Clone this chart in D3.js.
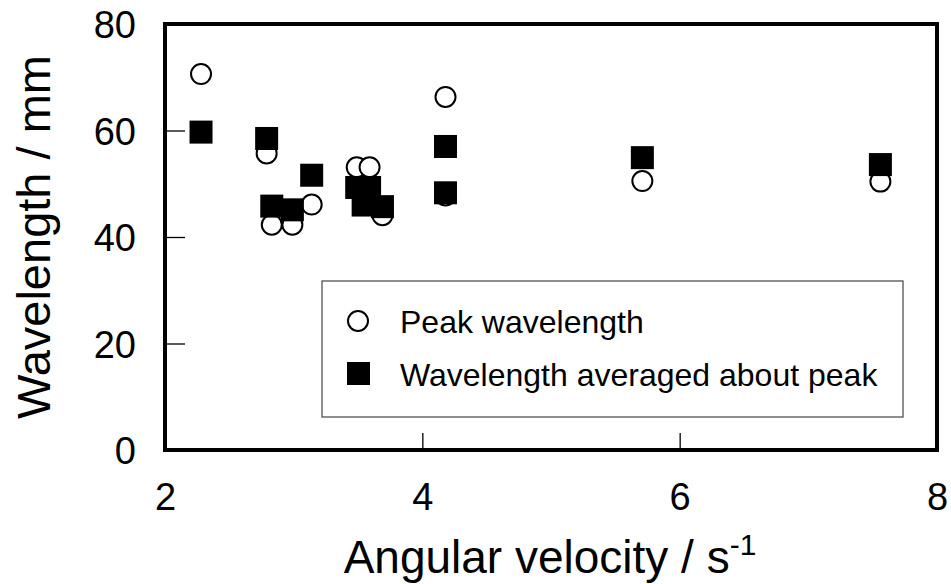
<!DOCTYPE html>
<html><head><meta charset="utf-8">
<script src="https://cdn.jsdelivr.net/npm/d3@7"></script>
<style>body{margin:0;background:#fff}svg{display:block}text{font-family:"Liberation Sans",Arial,sans-serif;fill:#000}</style>
</head><body><svg id="c" width="951" height="584"></svg>
<script>
const peakX = [2.28, 2.79, 2.83, 2.99, 3.14, 3.49, 3.59, 3.54, 3.69, 4.18, 4.18, 5.71, 7.56];
const peakY = [70.6, 55.7, 42.3, 42.3, 46.1, 53.1, 53.1, 46.5, 44.1, 66.3, 47.8, 50.5, 50.4];
const avgX  = [2.28, 2.79, 2.83, 2.99, 3.14, 3.49, 3.59, 3.54, 3.69, 4.18, 4.18, 5.71, 7.56];
const avgY  = [59.7, 58.5, 45.8, 45.1, 51.6, 49.3, 49.3, 46.0, 45.7, 57.0, 48.3, 54.9, 53.6];
const xTicks = [2, 4, 6, 8];
const yTicks = [0, 20, 40, 60, 80];
const legendLabels = ["Peak wavelength", "Wavelength averaged about peak"];

const svg = d3.select("#c");
const L = 165, R = 937, T = 24, B = 450;
const x = d3.scaleLinear().domain([2, 8]).range([L, R]);
const y = d3.scaleLinear().domain([0, 80]).range([B, T]);

const xa = svg.append("g").attr("transform", `translate(0,${B})`)
  .call(d3.axisBottom(x).tickValues(xTicks).tickFormat(d3.format("d")).tickSizeInner(-17).tickSizeOuter(0));
const ya = svg.append("g").attr("transform", `translate(${L},0)`)
  .call(d3.axisLeft(y).tickValues(yTicks).tickFormat(d3.format("d")).tickSizeInner(-20).tickSizeOuter(0));
[xa, ya].forEach(a => {
  a.select(".domain").remove();
  a.selectAll(".tick line").attr("stroke", "#000").attr("stroke-width", 1.3);
  a.selectAll("text").style("font-size", "38px").attr("font-family", "Liberation Sans, Arial, sans-serif").attr("fill", "#000");
});
xa.selectAll(".tick line").filter(d => d === 2 || d === 8).remove();
ya.selectAll(".tick line").filter(d => d === 0 || d === 80).remove();
xa.selectAll("text").attr("y", 60).attr("dy", 0);
ya.selectAll("text").attr("x", -29).attr("dy", "0.36em");

// markers
svg.append("g").selectAll("circle").data(peakX.map((v, i) => [v, peakY[i]])).join("circle")
  .attr("cx", d => x(d[0])).attr("cy", d => y(d[1])).attr("r", 10)
  .attr("fill", "#fff").attr("stroke", "#000").attr("stroke-width", 2);
const s = 23;
svg.append("g").selectAll("rect").data(avgX.map((v, i) => [v, avgY[i]])).join("rect")
  .attr("x", d => x(d[0]) - s / 2).attr("y", d => y(d[1]) - s / 2).attr("width", s).attr("height", s)
  .attr("fill", "#000");

// frame
svg.append("rect").attr("x", L).attr("y", T).attr("width", R - L).attr("height", B - T)
  .attr("fill", "none").attr("stroke", "#000").attr("stroke-width", 4);

// legend
const lg = svg.append("g");
lg.append("rect").attr("x", 322).attr("y", 281).attr("width", 581).attr("height", 136)
  .attr("fill", "#fff").attr("stroke", "#444").attr("stroke-width", 1.2);
lg.append("circle").attr("cx", 358).attr("cy", 321).attr("r", 10)
  .attr("fill", "#fff").attr("stroke", "#000").attr("stroke-width", 2);
lg.append("rect").attr("x", 347).attr("y", 362).attr("width", 23).attr("height", 23).attr("fill", "#000");
lg.selectAll("text").data(legendLabels).join("text")
  .attr("x", 400).attr("y", (d, i) => 333 + i * 53).style("font-size", "32px").text(d => d);

// axis titles
const xt = svg.append("text").attr("x", 550).attr("y", 573).attr("text-anchor", "middle").style("font-size", "46px");
xt.append("tspan").text("Angular velocity / s");
xt.append("tspan").attr("dy", -18).style("font-size", "30px").text("-1");
svg.append("text").attr("transform", "translate(50,237) rotate(-90)").attr("text-anchor", "middle")
  .style("font-size", "47px").text("Wavelength / mm");
</script></body></html>
